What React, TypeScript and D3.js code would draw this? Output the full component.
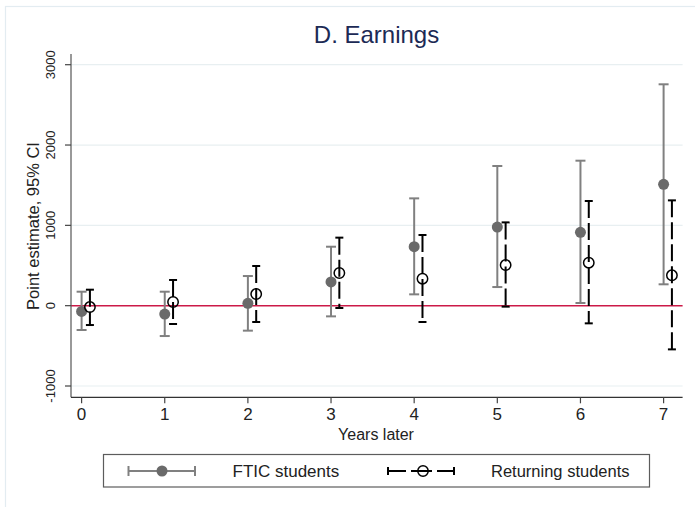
import React, { useEffect, useRef } from "react";
import * as d3 from "d3";

const years = [0, 1, 2, 3, 4, 5, 6, 7];
const fticEst = [-71, -104, 29, 295, 734, 979, 913, 1511];
const fticLo = [-303, -378, -311, -133, 141, 232, 33, 266];
const fticHi = [174, 174, 369, 734, 1336, 1739, 1805, 2756];
const retEst = [-17, 46, 145, 407, 336, 506, 535, 378];
const retLo = [-241, -228, -203, -29, -203, -12, -220, -544];
const retHi = [199, 320, 494, 847, 880, 1037, 1303, 1311];
const yTicks = [-1000, 0, 1000, 2000, 3000];

const W = 695, H = 507;
const FONT = "Arial, 'Liberation Sans', sans-serif";

export default function App() {
  const ref = useRef<SVGSVGElement>(null);

  useEffect(() => {
    document.body.style.margin = "0";
    const svg = d3.select(ref.current);
    svg.selectAll("*").remove();

    const x = d3.scaleLinear().domain([0, 7]).range([81.6, 663.6]);
    const y = d3.scaleLinear().domain([-1000, 3000]).range([386, 64.7]);
    const left = 71, right = 682.6, top = 54, bottom = 397.3;

    // outer frame
    svg.append("rect").attr("x", 5.5).attr("y", 6.5).attr("width", 720).attr("height", 540)
      .attr("fill", "white").attr("stroke", "#e3ecf1").attr("stroke-width", 1.2);

    // gridlines
    svg.selectAll(".grid").data(yTicks.filter(d => d !== 0)).join("line")
      .attr("x1", left).attr("x2", right)
      .attr("y1", d => y(d)).attr("y2", d => y(d))
      .attr("stroke", "#e8eff1").attr("stroke-width", 1.2);

    // zero line
    svg.append("line").attr("x1", left).attr("x2", right).attr("y1", y(0)).attr("y2", y(0))
      .attr("stroke", "#cc1a48").attr("stroke-width", 1.6);

    // axes
    svg.append("line").attr("x1", left).attr("x2", left).attr("y1", top).attr("y2", bottom)
      .attr("stroke", "#555").attr("stroke-width", 1.2);
    svg.append("line").attr("x1", left).attr("x2", right).attr("y1", bottom).attr("y2", bottom)
      .attr("stroke", "#333").attr("stroke-width", 1.2);

    svg.selectAll(".ytick").data(yTicks).join("line")
      .attr("x1", left - 6).attr("x2", left).attr("y1", d => y(d)).attr("y2", d => y(d))
      .attr("stroke", "#444").attr("stroke-width", 1.2);
    svg.selectAll(".ylab").data(yTicks).join("text")
      .attr("transform", d => `translate(55,${y(d)}) rotate(-90)`)
      .attr("text-anchor", "middle").attr("font-family", FONT).attr("font-size", 13)
      .attr("fill", "#222").text(d => String(d));

    svg.selectAll(".xtick").data(years).join("line")
      .attr("x1", d => x(d)).attr("x2", d => x(d)).attr("y1", bottom).attr("y2", bottom + 6)
      .attr("stroke", "#444").attr("stroke-width", 1.2);
    svg.selectAll(".xlab").data(years).join("text")
      .attr("x", d => x(d)).attr("y", 420)
      .attr("text-anchor", "middle").attr("font-family", FONT).attr("font-size", 17)
      .attr("fill", "#222").text(d => String(d));

    svg.append("text").attr("x", 376).attr("y", 439.5).attr("text-anchor", "middle")
      .attr("font-family", FONT).attr("font-size", 16).attr("fill", "#222").text("Years later");
    svg.append("text").attr("transform", `translate(39,226) rotate(-90)`).attr("text-anchor", "middle")
      .attr("font-family", FONT).attr("font-size", 16.5).attr("fill", "#222").text("Point estimate, 95% CI");
    svg.append("text").attr("x", 376.5).attr("y", 43).attr("text-anchor", "middle")
      .attr("font-family", FONT).attr("font-size", 24).attr("fill", "#1c2a55").text("D. Earnings");

    const gray = "#808080", grayDot = "#6a6a6a";
    const off = 0.1;

    // FTIC error bars
    const g1 = svg.append("g");
    years.forEach((yr, i) => {
      const cx = x(yr);
      g1.append("line").attr("x1", cx).attr("x2", cx).attr("y1", y(fticLo[i])).attr("y2", y(fticHi[i]))
        .attr("stroke", gray).attr("stroke-width", 2);
      [fticLo[i], fticHi[i]].forEach(v => {
        g1.append("line").attr("x1", cx - 5).attr("x2", cx + 5).attr("y1", y(v)).attr("y2", y(v))
          .attr("stroke", gray).attr("stroke-width", 2);
      });
      g1.append("circle").attr("cx", cx).attr("cy", y(fticEst[i])).attr("r", 5.5).attr("fill", grayDot);
    });

    // Returning error bars
    const g2 = svg.append("g");
    years.forEach((yr, i) => {
      const cx = x(yr + off);
      g2.append("line").attr("x1", cx).attr("x2", cx).attr("y1", y(retHi[i])).attr("y2", y(retLo[i]))
        .attr("stroke", "#000").attr("stroke-width", 2).attr("stroke-dasharray", "17 5");
      [retLo[i], retHi[i]].forEach(v => {
        g2.append("line").attr("x1", cx - 4).attr("x2", cx + 4).attr("y1", y(v)).attr("y2", y(v))
          .attr("stroke", "#000").attr("stroke-width", 2);
      });
      g2.append("circle").attr("cx", cx).attr("cy", y(retEst[i])).attr("r", 5.2)
        .attr("fill", "none").attr("stroke", "#000").attr("stroke-width", 1.5);
    });

    // legend
    const lg = svg.append("g");
    lg.append("rect").attr("x", 103.5).attr("y", 454.5).attr("width", 546).attr("height", 32.5)
      .attr("fill", "white").attr("stroke", "#5c5c5c").attr("stroke-width", 1.2);
    const ly = 471;
    lg.append("line").attr("x1", 128.5).attr("x2", 195).attr("y1", ly).attr("y2", ly)
      .attr("stroke", gray).attr("stroke-width", 2);
    [128.5, 195].forEach(px => lg.append("line").attr("x1", px).attr("x2", px).attr("y1", ly - 5).attr("y2", ly + 5)
      .attr("stroke", gray).attr("stroke-width", 2));
    lg.append("circle").attr("cx", 162).attr("cy", ly).attr("r", 5.5).attr("fill", grayDot);
    lg.append("text").attr("x", 232.5).attr("y", ly + 6).attr("font-family", FONT).attr("font-size", 17)
      .attr("fill", "#222").text("FTIC students");

    lg.append("line").attr("x1", 388).attr("x2", 454).attr("y1", ly).attr("y2", ly)
      .attr("stroke", "#000").attr("stroke-width", 2).attr("stroke-dasharray", "18 5 21 5 17");
    [388, 454].forEach(px => lg.append("line").attr("x1", px).attr("x2", px).attr("y1", ly - 4).attr("y2", ly + 4)
      .attr("stroke", "#000").attr("stroke-width", 2));
    lg.append("circle").attr("cx", 423).attr("cy", ly).attr("r", 5.2)
      .attr("fill", "none").attr("stroke", "#000").attr("stroke-width", 1.5);
    lg.append("text").attr("x", 491).attr("y", ly + 6).attr("font-family", FONT).attr("font-size", 16.5)
      .attr("fill", "#222").text("Returning students");
  }, []);

  return <svg ref={ref} width={W} height={H} style={{ display: "block" }} />;
}
